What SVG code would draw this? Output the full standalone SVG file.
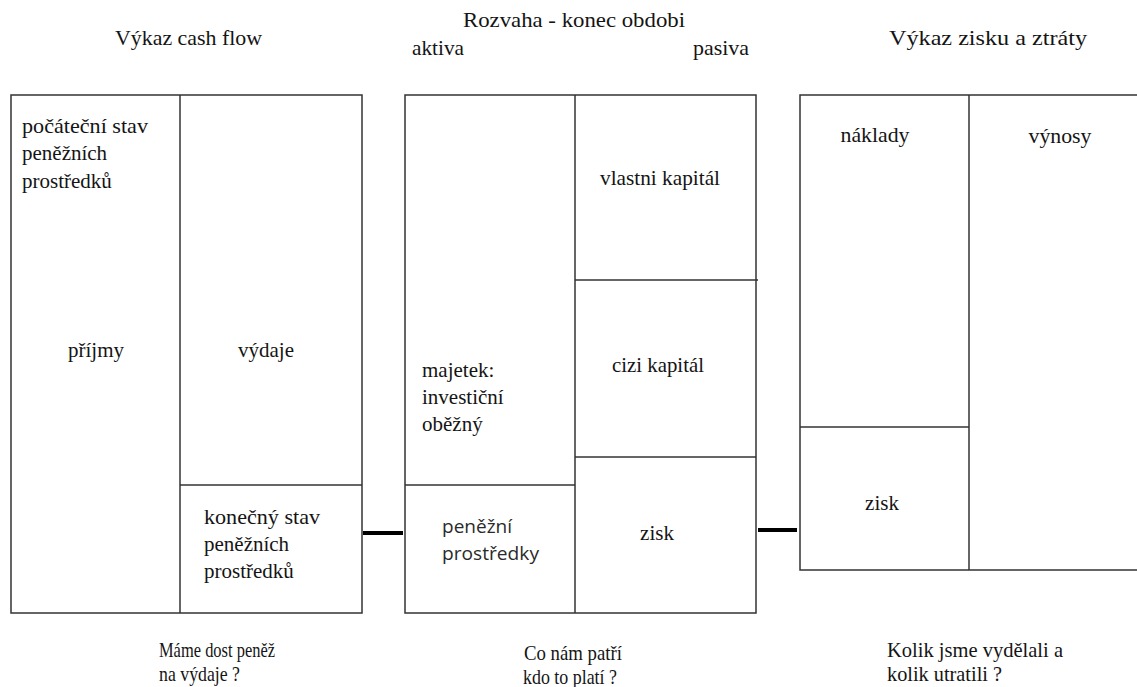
<svg xmlns="http://www.w3.org/2000/svg" width="1137" height="687" viewBox="0 0 1137 687">
  <style>
    .box { fill: #ffffff; stroke: #333333; stroke-width: 1.5; }
    .ln { fill: none; stroke: #333333; stroke-width: 1.5; }
    .conn { stroke: #000000; stroke-width: 4; fill: none; }
    .t { font-family: "Liberation Serif", "Times New Roman", serif; font-size: 21px; fill: #141414; }
    .ts { font-family: "Open Sans", "Liberation Sans", Arial, sans-serif; font-size: 18.5px; fill: #2a2a2a; }
    .tb { font-family: "Liberation Serif", "Times New Roman", serif; font-size: 22px; fill: #141414; }
    .c { text-anchor: middle; }
  </style>
  <rect x="0" y="0" width="1137" height="687" fill="#ffffff"/>

  <g id="titles">
    <text class="t" x="115" y="45" textLength="147" lengthAdjust="spacingAndGlyphs">Výkaz cash flow</text>
    <text class="t" x="463" y="27" textLength="222" lengthAdjust="spacingAndGlyphs">Rozvaha - konec obdobi</text>
    <text class="t" x="412" y="55" textLength="52" lengthAdjust="spacingAndGlyphs">aktiva</text>
    <text class="t" x="693" y="55" textLength="56" lengthAdjust="spacingAndGlyphs">pasiva</text>
    <text class="t" x="889" y="45" textLength="198" lengthAdjust="spacingAndGlyphs">Výkaz zisku a ztráty</text>
  </g>

  <g id="cashflow">
    <rect class="box" x="11" y="95" width="351" height="518"/>
    <line class="ln" x1="180" y1="95" x2="180" y2="613"/>
    <line class="ln" x1="180" y1="485" x2="362" y2="485"/>
    <text class="t" x="22" y="133" textLength="126" lengthAdjust="spacingAndGlyphs">počáteční stav</text>
    <text class="t" x="22" y="160">peněžních</text>
    <text class="t" x="22" y="188">prostředků</text>
    <text class="t c" x="96" y="357">příjmy</text>
    <text class="t c" x="266" y="357">výdaje</text>
    <text class="t" x="204" y="524" textLength="116" lengthAdjust="spacingAndGlyphs">konečný stav</text>
    <text class="t" x="204" y="551">peněžních</text>
    <text class="t" x="204" y="578">prostředků</text>
  </g>

  <g id="rozvaha">
    <rect class="box" x="405" y="95" width="351" height="518"/>
    <line class="ln" x1="575" y1="95" x2="575" y2="613"/>
    <line class="ln" x1="575" y1="280" x2="758" y2="280"/>
    <line class="ln" x1="575" y1="457" x2="756" y2="457"/>
    <line class="ln" x1="405" y1="485" x2="575" y2="485"/>
    <text class="t c" x="660" y="185" textLength="120" lengthAdjust="spacingAndGlyphs">vlastni kapitál</text>
    <text class="t c" x="658" y="372" textLength="92" lengthAdjust="spacingAndGlyphs">cizi kapitál</text>
    <text class="t" x="422" y="377">majetek:</text>
    <text class="t" x="422" y="404">investiční</text>
    <text class="t" x="422" y="431">oběžný</text>
    <text class="ts" x="442" y="533" textLength="70" lengthAdjust="spacingAndGlyphs">peněžní</text>
    <text class="ts" x="442" y="560" textLength="97" lengthAdjust="spacingAndGlyphs">prostředky</text>
    <text class="t c" x="657" y="540">zisk</text>
  </g>

  <g id="vzz">
    <path class="ln" d="M1140,95 H800 V570 H1140"/>
    <line class="ln" x1="969" y1="95" x2="969" y2="570"/>
    <line class="ln" x1="800" y1="427" x2="969" y2="427"/>
    <text class="t c" x="875" y="142" textLength="69" lengthAdjust="spacingAndGlyphs">náklady</text>
    <text class="t c" x="1060" y="143" textLength="63" lengthAdjust="spacingAndGlyphs">výnosy</text>
    <text class="t c" x="882" y="510">zisk</text>
  </g>

  <g id="connectors">
    <line class="conn" x1="363" y1="533" x2="403" y2="533"/>
    <line class="conn" x1="758" y1="530" x2="797" y2="530"/>
  </g>

  <g id="questions">
    <text class="tb" x="159" y="657" textLength="116" lengthAdjust="spacingAndGlyphs">Máme dost peněž</text>
    <text class="tb" x="159" y="681" textLength="81" lengthAdjust="spacingAndGlyphs">na výdaje ?</text>
    <text class="tb" x="524" y="660" textLength="98" lengthAdjust="spacingAndGlyphs">Co nám patří</text>
    <text class="tb" x="523" y="684" textLength="94" lengthAdjust="spacingAndGlyphs">kdo to platí ?</text>
    <text class="tb" x="887" y="657" textLength="176" lengthAdjust="spacingAndGlyphs">Kolik jsme vydělali a</text>
    <text class="tb" x="887" y="681" textLength="115" lengthAdjust="spacingAndGlyphs">kolik utratili ?</text>
  </g>
</svg>
